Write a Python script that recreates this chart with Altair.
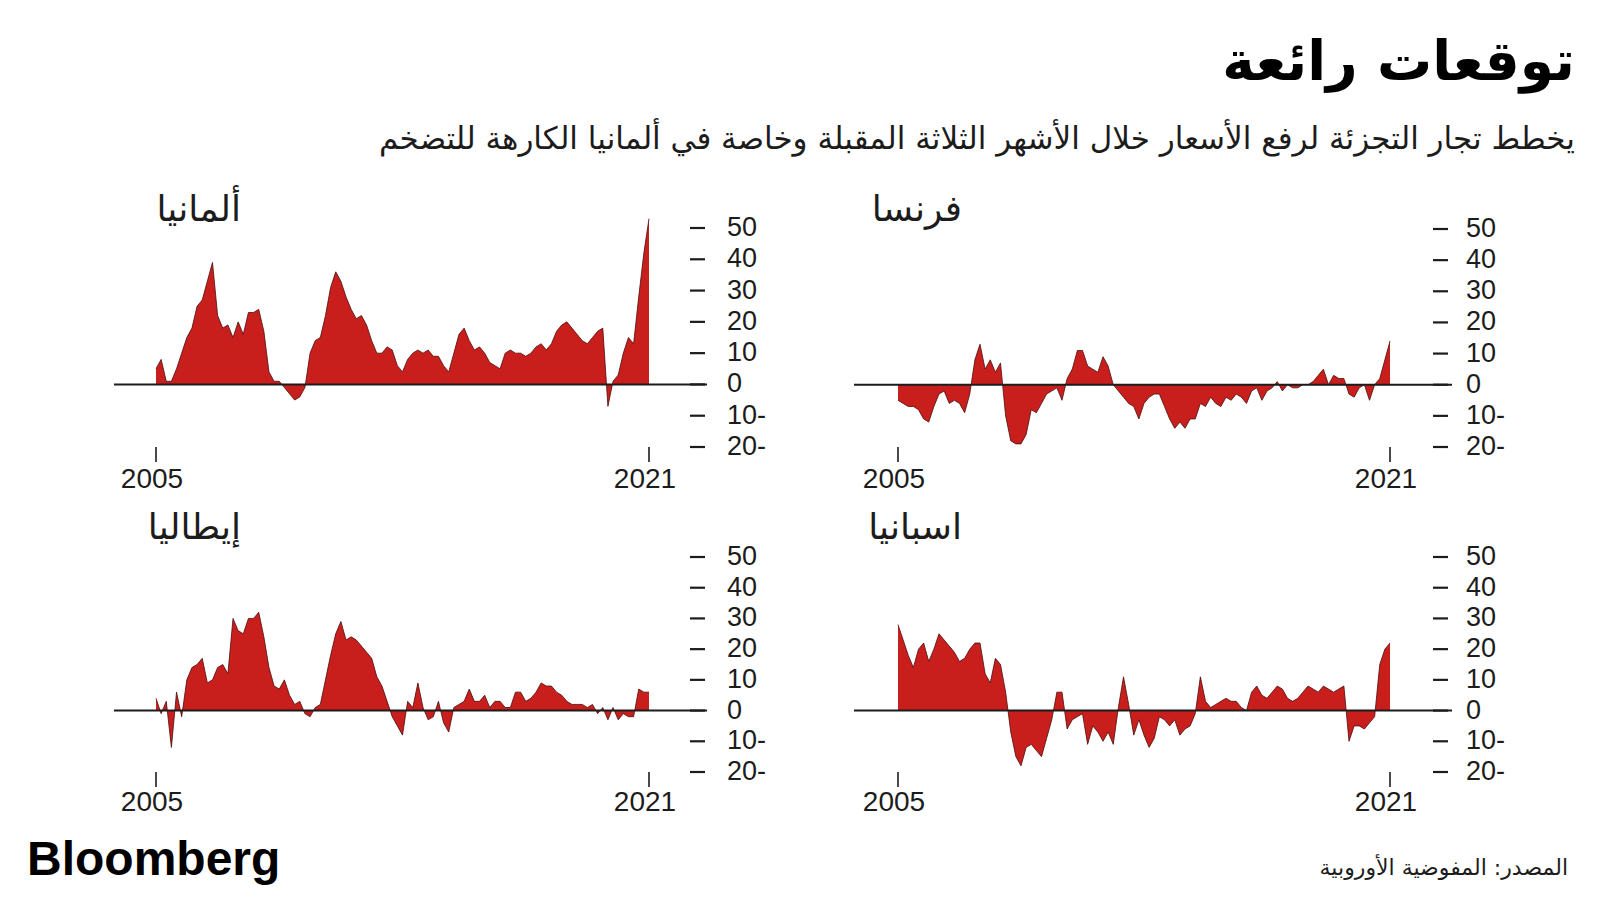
import altair as alt
import numpy as np
import pandas as pd

# ---------------- data (one value every two months from Jan 2005) ----------------
GERMANY = [5, 8, 1, 1, 5, 10, 15, 18, 25, 27,
           33, 39, 22, 18, 19, 15, 20, 16, 23, 23,
           24, 17, 4, 1, 1, -1, -3, -5, -4, -1,
           10, 14, 15, 22, 31, 36, 33, 28, 24, 21,
           22, 19, 14, 10, 10, 12, 11, 6, 4, 8,
           10, 11, 10, 11, 9, 9, 6, 4, 10, 16,
           18, 14, 11, 12, 10, 7, 6, 5, 10, 11,
           10, 10, 9, 10, 12, 13, 11, 13, 17, 19,
           20, 18, 16, 14, 13, 15, 17, 18, -7, 1,
           3, 10, 15, 13, 28, 42, 53]
FRANCE = [-5, -6, -7, -7, -8, -11, -12, -7, -3, -2,
          -6, -5, -6, -9, -3, 8, 13, 5, 8, 4,
          7, -10, -18, -19, -19, -16, -8, -9, -6, -3,
          -2, -1, -5, 2, 5, 11, 11, 6, 5, 4,
          9, 6, 0, -2, -4, -6, -7, -11, -6, -4,
          -3, -3, -7, -11, -14, -12, -14, -11, -11, -6,
          -7, -4, -6, -7, -4, -5, -3, -4, -6, -2,
          -1, -5, -2, -1, 1, -2, 0, -1, -1, 0,
          0, 1, 3, 5, 0, 3, 2, 2, -3, -4,
          -1, 0, -5, 0, 2, 8, 14]
ITALY = [4, -1, 3, -12, 6, -2, 10, 14, 15, 17,
         9, 10, 14, 15, 12, 30, 26, 25, 30, 30,
         32, 24, 14, 8, 7, 10, 5, 2, 3, -1,
         -2, 1, 2, 10, 18, 25, 29, 23, 24, 23,
         21, 19, 17, 11, 8, 3, -2, -5, -8, 3,
         1, 9, 1, -3, -2, 3, -4, -7, 1, 2,
         3, 7, 3, 3, 5, 1, 3, 3, 1, 1,
         6, 6, 3, 4, 6, 9, 8, 8, 6, 5,
         3, 2, 2, 2, 1, 2, -1, 1, -3, 1,
         -3, -1, -2, -2, 7, 6, 6]
SPAIN = [28, 23, 18, 14, 20, 22, 16, 20, 25, 23,
         21, 19, 16, 17, 20, 22, 22, 12, 9, 17,
         15, 6, -7, -15, -18, -12, -11, -13, -15, -9,
         -3, 6, 6, -6, -3, -2, -1, -11, -5, -7,
         -10, -7, -11, 1, 11, 2, -8, -3, -8, -12,
         -9, -2, -3, -5, -3, -8, -6, -5, -1, 11,
         3, 1, 2, 3, 4, 3, 3, 1, 0, 6,
         8, 5, 4, 6, 8, 7, 4, 3, 4, 6,
         8, 7, 6, 8, 7, 6, 7, 8, -10, -5,
         -5, -6, -4, -2, 15, 20, 22]

START_YEAR = 2005
X_TICKS = [2005, 2021]
Y_TICKS = [50, 40, 30, 20, 10, 0, -10, -20]

TITLE = "توقعات رائعة"
SUBTITLE = "يخطط تجار التجزئة لرفع الأسعار خلال الأشهر الثلاثة المقبلة وخاصة في ألمانيا الكارهة للتضخم"
SOURCE = "المصدر: المفوضية الأوروبية"
LOGO = "Bloomberg"
NAMES = {"de": "ألمانيا", "fr": "فرنسا", "it": "إيطاليا", "es": "اسبانيا"}

# ---------------- styling ----------------
RED = "#c81f1d"
EDGE = "#4a0c0c"
INK = "#1c1c1c"
AR_FONT = "DejaVu Sans"
NUM_FONT = "Liberation Sans"


def y_label(v):
    return f"{abs(v)}-" if v < 0 else str(v)


def panel(values, name, x_rng, y_rng, zero_x, ytick_x, ylab_x, xtick_y, xlab_y, title_x, title_y):
    df = pd.DataFrame({
        "year": START_YEAR + np.arange(len(values)) / 6.0,
        "value": values,
    })
    xs = alt.Scale(domain=[2005, 2021], range=x_rng, nice=False, zero=False)
    ys = alt.Scale(domain=[-20, 50], range=y_rng, nice=False, zero=False)

    area = alt.Chart(df).mark_area(
        color=RED, orient="vertical", opacity=1,
        line={"color": EDGE, "strokeWidth": 0.8},
    ).encode(
        x=alt.X("year:Q", scale=xs, axis=None),
        y=alt.Y("value:Q", scale=ys, axis=None),
        y2=alt.datum(0),
    )

    zero = alt.Chart(pd.DataFrame({"v": [0]})).mark_rule(color=INK, strokeWidth=2).encode(
        x=alt.value(zero_x[0]), x2=alt.value(zero_x[1]),
        y=alt.Y("v:Q", scale=ys, axis=None),
    )

    ydf = pd.DataFrame({"t": Y_TICKS, "lab": [y_label(v) for v in Y_TICKS]})
    yt = alt.Chart(ydf).mark_rule(color=INK, strokeWidth=2.2).encode(
        x=alt.value(ytick_x[0]), x2=alt.value(ytick_x[1]),
        y=alt.Y("t:Q", scale=ys, axis=None),
    )
    yl = alt.Chart(ydf).mark_text(
        align="left", baseline="middle", font=NUM_FONT, fontSize=27, color=INK
    ).encode(
        x=alt.value(ylab_x),
        y=alt.Y("t:Q", scale=ys, axis=None),
        text="lab:N",
    )

    xdf = pd.DataFrame({"t": X_TICKS, "lab": [str(v) for v in X_TICKS]})
    xt = alt.Chart(xdf).mark_rule(color=INK, strokeWidth=1.6).encode(
        x=alt.X("t:Q", scale=xs, axis=None),
        y=alt.value(xtick_y[0]), y2=alt.value(xtick_y[1]),
    )
    xl = alt.Chart(xdf).mark_text(
        align="center", baseline="middle", font=NUM_FONT, fontSize=28, color=INK, dx=-4
    ).encode(
        x=alt.X("t:Q", scale=xs, axis=None),
        y=alt.value(xlab_y),
        text="lab:N",
    )

    ttl = alt.Chart(pd.DataFrame({"n": [name]})).mark_text(
        align="right", baseline="alphabetic", font=AR_FONT, fontSize=36, color=INK
    ).encode(x=alt.value(title_x), y=alt.value(title_y), text="n:N")

    return alt.layer(area, zero, yt, yl, xt, xl, ttl)


de = panel(GERMANY, NAMES["de"], [156, 649], [447, 228], (114, 707), (690, 705), 727,
           (447, 462), 480, 241, 221)
fr = panel(FRANCE, NAMES["fr"], [898, 1390], [447, 229], (854, 1452), (1433, 1448), 1466,
           (447, 462), 480, 962, 221)
it = panel(ITALY, NAMES["it"], [156, 649], [772, 557], (114, 707), (690, 705), 727,
           (772, 787), 803, 241, 539)
es = panel(SPAIN, NAMES["es"], [898, 1390], [772, 557], (854, 1452), (1433, 1448), 1466,
           (772, 787), 803, 962, 539)

one = pd.DataFrame({"k": [0]})
title = alt.Chart(one).mark_text(
    align="right", baseline="alphabetic", font=AR_FONT, fontSize=55, fontWeight="bold", color="#000"
).encode(x=alt.value(1575), y=alt.value(80), text=alt.value(TITLE))
subtitle = alt.Chart(one).mark_text(
    align="right", baseline="alphabetic", font=AR_FONT, fontSize=31, color=INK
).encode(x=alt.value(1575), y=alt.value(149), text=alt.value(SUBTITLE))
source = alt.Chart(one).mark_text(
    align="right", baseline="alphabetic", font=AR_FONT, fontSize=22, color=INK
).encode(x=alt.value(1568), y=alt.value(875), text=alt.value(SOURCE))
logo = alt.Chart(one).mark_text(
    align="left", baseline="alphabetic", font=NUM_FONT, fontSize=48, fontWeight="bold", color="#000"
).encode(x=alt.value(27), y=alt.value(875), text=alt.value(LOGO))

chart = alt.layer(de, fr, it, es, title, subtitle, source, logo).resolve_scale(
    x="independent", y="independent"
).properties(
    width=1600, height=900, padding=0, autosize=alt.AutoSizeParams(type="none"),
    background="white",
).configure_view(stroke=None)

chart.save("out.html", embed_options={"renderer": "svg", "actions": False})
